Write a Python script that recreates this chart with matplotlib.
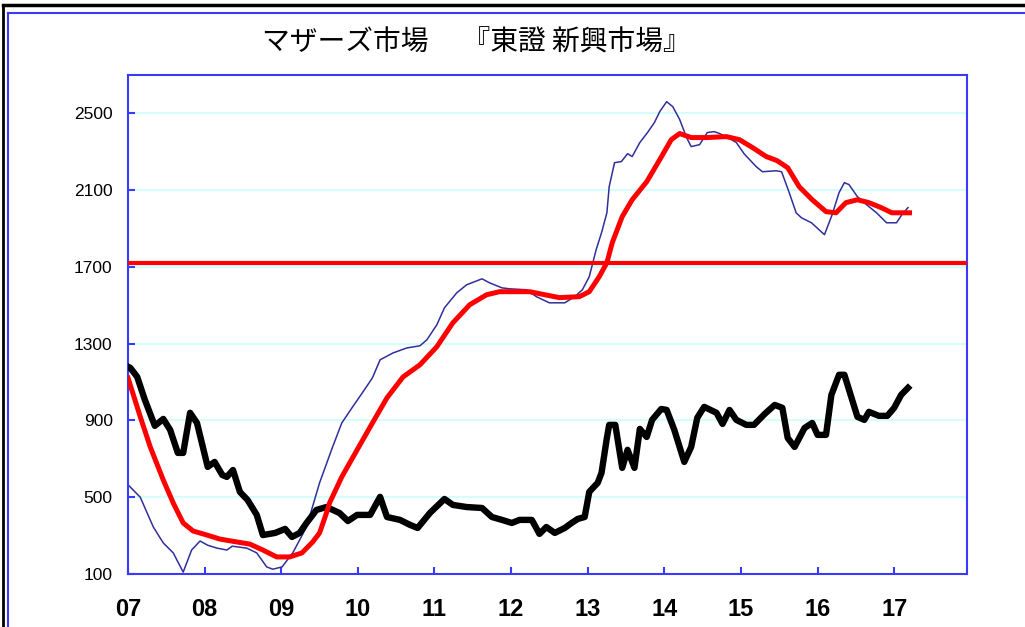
import matplotlib
matplotlib.use('Agg')
import matplotlib.pyplot as plt
from matplotlib.lines import Line2D

# monthly-ish points (year, value)
blue_x = [2007.00, 2007.16, 2007.33, 2007.46, 2007.59, 2007.72, 2007.83, 2007.94, 2008.04, 2008.16,
          2008.29, 2008.36, 2008.55, 2008.68, 2008.81, 2008.89, 2009.01, 2009.15, 2009.33, 2009.50,
          2009.67, 2009.79, 2009.93, 2010.06, 2010.19, 2010.29, 2010.46, 2010.64, 2010.81, 2010.90,
          2011.03, 2011.13, 2011.29, 2011.42, 2011.62, 2011.72, 2011.88, 2011.98, 2012.20, 2012.33,
          2012.50, 2012.70, 2012.83, 2012.93, 2013.02, 2013.11, 2013.18, 2013.25, 2013.28, 2013.35,
          2013.44, 2013.52, 2013.58, 2013.68, 2013.78, 2013.87, 2013.94, 2014.03, 2014.11, 2014.20,
          2014.29, 2014.35, 2014.46, 2014.56, 2014.65, 2014.72, 2014.85, 2014.94, 2015.04, 2015.20,
          2015.28, 2015.46, 2015.53, 2015.63, 2015.72, 2015.79, 2015.92, 2016.09, 2016.19, 2016.28,
          2016.35, 2016.41, 2016.52, 2016.64, 2016.77, 2016.90, 2017.03, 2017.10, 2017.18]
blue_y = [565, 500, 345, 262, 210, 110, 225, 272, 250, 235,
          225, 245, 235, 210, 137, 125, 137, 210, 345, 575,
          762, 887, 970, 1045, 1122, 1216, 1252, 1278, 1289, 1320,
          1398, 1487, 1565, 1607, 1638, 1617, 1591, 1586, 1581, 1545,
          1513, 1513, 1545, 1581, 1649, 1790, 1878, 1982, 2118, 2243,
          2249, 2290, 2275, 2348, 2400, 2452, 2509, 2561, 2535, 2468,
          2374, 2327, 2337, 2400, 2405, 2395, 2369, 2348, 2290, 2222,
          2196, 2201, 2196, 2087, 1982, 1956, 1930, 1868, 1972, 2087,
          2139, 2129, 2066, 2024, 1982, 1930, 1930, 1972, 2009]

red_x = [2007.00, 2007.16, 2007.29, 2007.46, 2007.59, 2007.72, 2007.85, 2008.03, 2008.20, 2008.42,
         2008.59, 2008.76, 2008.94, 2009.11, 2009.27, 2009.41, 2009.50, 2009.59, 2009.63, 2009.79,
         2009.99, 2010.19, 2010.38, 2010.59, 2010.81, 2011.03, 2011.24, 2011.46, 2011.68, 2011.85,
         2012.24, 2012.63, 2012.89, 2013.02, 2013.15, 2013.25, 2013.32, 2013.45, 2013.58, 2013.77,
         2013.94, 2014.09, 2014.20, 2014.35, 2014.55, 2014.81, 2014.98, 2015.15, 2015.33, 2015.47,
         2015.61, 2015.76, 2015.93, 2016.11, 2016.24, 2016.37, 2016.52, 2016.67, 2016.83, 2016.97,
         2017.20]
red_y = [1122, 919, 762, 590, 470, 366, 324, 303, 282, 267,
         256, 225, 189, 189, 210, 267, 314, 418, 470, 606,
         747, 887, 1018, 1127, 1190, 1284, 1409, 1503, 1555, 1571,
         1571, 1540, 1545, 1571, 1649, 1722, 1826, 1962, 2050, 2144,
         2259, 2363, 2395, 2374, 2374, 2379, 2363, 2322, 2275, 2254,
         2217, 2118, 2050, 1988, 1982, 2035, 2050, 2035, 2009, 1982,
         1982]

black_x = [2007.00, 2007.03, 2007.12, 2007.22, 2007.35, 2007.46, 2007.55, 2007.65, 2007.72, 2007.81,
           2007.90, 2008.04, 2008.13, 2008.23, 2008.29, 2008.37, 2008.46, 2008.56, 2008.68, 2008.76,
           2008.92, 2009.05, 2009.14, 2009.24, 2009.33, 2009.46, 2009.59, 2009.76, 2009.87, 2009.99,
           2010.16, 2010.29, 2010.38, 2010.55, 2010.68, 2010.78, 2010.94, 2011.13, 2011.24, 2011.42,
           2011.62, 2011.75, 2011.88, 2012.01, 2012.11, 2012.27, 2012.37, 2012.46, 2012.57, 2012.70,
           2012.79, 2012.87, 2012.96, 2013.02, 2013.13, 2013.18, 2013.25, 2013.28, 2013.36, 2013.45,
           2013.52, 2013.61, 2013.68, 2013.77, 2013.84, 2013.96, 2014.03, 2014.13, 2014.26, 2014.35,
           2014.43, 2014.52, 2014.68, 2014.76, 2014.85, 2014.94, 2015.07, 2015.17, 2015.31, 2015.44,
           2015.54, 2015.61, 2015.70, 2015.83, 2015.93, 2016.00, 2016.11, 2016.18, 2016.28, 2016.35,
           2016.52, 2016.61, 2016.67, 2016.80, 2016.91, 2017.00, 2017.09, 2017.18]
black_y = [1180, 1174, 1127, 1007, 872, 908, 851, 731, 731, 940,
           887, 658, 684, 616, 606, 642, 528, 486, 408, 303,
           314, 335, 293, 314, 366, 434, 449, 418, 376, 408,
           408, 502, 397, 382, 356, 340, 418, 491, 460, 449,
           444, 397, 382, 366, 382, 382, 309, 345, 314, 340,
           366, 387, 397, 528, 575, 627, 809, 877, 877, 653,
           747, 653, 856, 814, 903, 960, 955, 851, 684, 762,
           914, 971, 940, 882, 955, 903, 877, 877, 934, 981,
           966, 809, 762, 861, 887, 825, 825, 1033, 1138, 1138,
           919, 903, 945, 924, 924, 966, 1033, 1070]

hline_value = 1720
y_ticks = [100, 500, 900, 1300, 1700, 2100, 2500]
x_ticks = list(range(2007, 2018))
x_labels = ['07', '08', '09', '10', '11', '12', '13', '14', '15', '16', '17']

title = 'マザーズ市場　 『東證 新興市場』'

spine_blue = '#3a3aff'
num_font = ['Liberation Sans', 'DejaVu Sans']

fig = plt.figure(figsize=(10.25, 6.27), dpi=100)
ax = fig.add_axes([0.1249, 0.0845, 0.8185, 0.7959])

ax.set_xlim(2007, 2017.95)
ax.set_ylim(100, 2700)

for yv in y_ticks[1:]:
    ax.axhline(yv, color='#ccffff', lw=1.2, zorder=0)

ax.plot(blue_x, blue_y, color='#30309a', lw=1.1, zorder=2)
ax.plot(black_x, black_y, color='black', lw=4.6, solid_joinstyle='round', zorder=3)
ax.plot(red_x, red_y, color='#ff0000', lw=3.6, solid_joinstyle='round', zorder=4)
ax.axhline(hline_value, color='#ff0000', lw=3.0, zorder=4)

for s in ax.spines.values():
    s.set_color(spine_blue)
    s.set_linewidth(1.5)

ax.set_yticks(y_ticks)
ax.set_yticklabels([str(v) for v in y_ticks], family=num_font, fontsize=12.5)
ax.set_xticks(x_ticks)
ax.set_xticklabels(x_labels, family=num_font, fontsize=17, fontweight='bold')
ax.tick_params(axis='y', direction='in', length=5, width=1.5, color=spine_blue, pad=11)
ax.tick_params(axis='x', direction='in', length=5, width=1.5, color=spine_blue, pad=17)

fig.text(0.465, 0.932, title, ha='center', va='center', fontsize=20,
         family=['Noto Sans CJK JP', 'DejaVu Sans'])

# outer frames
fig.add_artist(Line2D([0.003, 0.003], [0, 0.992], transform=fig.transFigure, color='black', lw=2))
fig.add_artist(Line2D([0.003, 1], [0.992, 0.992], transform=fig.transFigure, color='black', lw=2.5))
fig.add_artist(Line2D([0.008, 0.008], [0, 0.979], transform=fig.transFigure, color=spine_blue, lw=1.5))
fig.add_artist(Line2D([0.008, 1], [0.979, 0.979], transform=fig.transFigure, color=spine_blue, lw=1.5))

fig.savefig('out.png', dpi=100)
